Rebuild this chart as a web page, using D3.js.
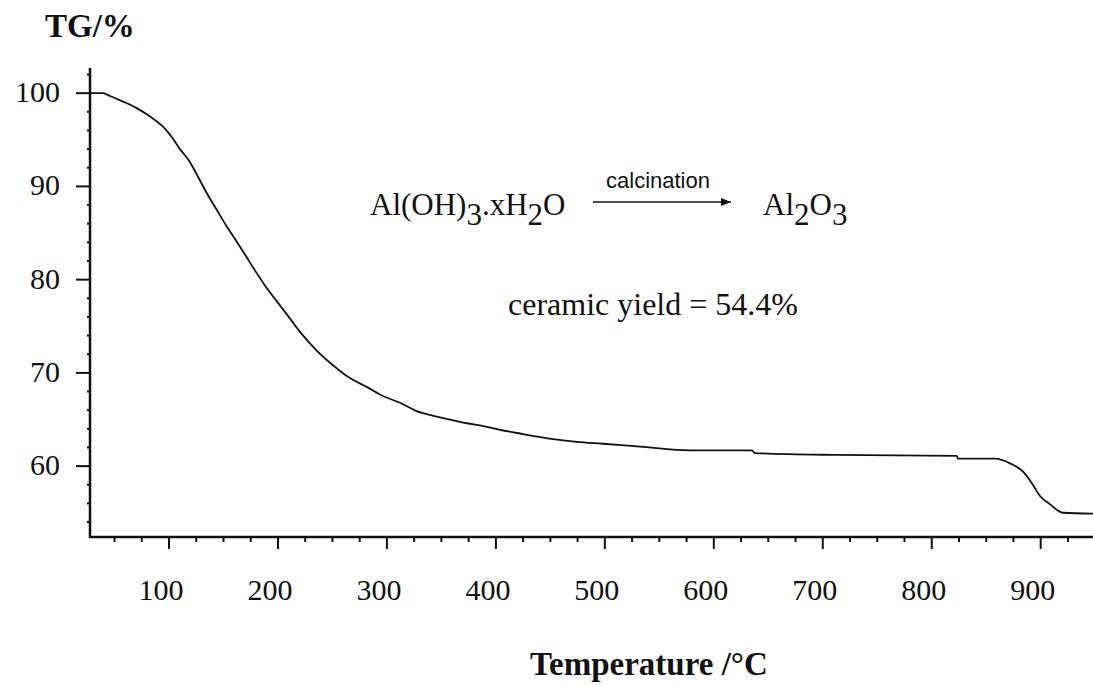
<!DOCTYPE html>
<html><head><meta charset="utf-8">
<script src="https://cdn.jsdelivr.net/npm/d3@7"></script>
<style>
html,body{margin:0;padding:0;background:#fff;}
svg{display:block;}
text{font-family:"Liberation Serif","Times New Roman",serif;fill:#111;}
</style></head>
<body>
<svg id="c" width="1093" height="685"></svg>
<script>
const temperature = [27.5,39.4,45.9,57.8,70.4,82.6,94.5,102.5,110.1,119.3,125.4,134.6,143.8,153.0,162.1,171.3,180.5,189.7,198.8,208.0,220.2,235.6,250.8,265.3,281.4,296.7,312.0,327.3,342.6,357.9,373.2,388.5,403.8,422.1,452.7,474.2,498.6,532.3,578.2,634.8,637.8,712.8,822.9,824.1,858.1,871.9,883.8,891.7,899.4,908.6,920.5,948];
const tgPercent   = [100.0,100.0,99.7,99.1,98.4,97.5,96.4,95.3,94.0,92.6,91.3,89.3,87.5,85.7,84.1,82.4,80.7,79.1,77.7,76.3,74.4,72.4,70.8,69.5,68.5,67.5,66.8,65.9,65.4,65.0,64.6,64.3,63.9,63.5,62.9,62.6,62.4,62.1,61.7,61.7,61.4,61.2,61.1,60.8,60.8,60.3,59.4,58.2,56.8,55.9,55.0,54.9];
const xTicks = [100,200,300,400,500,600,700,800,900];
const yTicks = [60,70,80,90,100];
const xMinor = d3.range(50,950,25).filter(v=>v%100!==0);
const yMinor = d3.range(54,103,2).filter(v=>v%10!==0);
const xLabel = "Temperature /°C";
const yLabel = "TG/%";
const reactant = ["Al(OH)","3",".xH","2","O"];
const product = ["Al","2","O","3"];
const arrowLabel = "calcination";
const yieldText = "ceramic yield = 54.4%";

const svg = d3.select("#c");
const x = d3.scaleLinear().domain([27.5,948]).range([90,1093]);
const y = d3.scaleLinear().domain([52.4,102.7]).range([537,68]);

// curve
const data = temperature.map((t,i)=>({t, v:tgPercent[i]}));
svg.append("path").datum(data)
  .attr("d", d3.line().x(d=>x(d.t)).y(d=>y(d.v)).curve(d3.curveMonotoneX))
  .attr("fill","none").attr("stroke","#111").attr("stroke-width",1.8);

// x axis
const gx = svg.append("g").attr("transform","translate(0,537)");
gx.append("line").attr("x1",89).attr("x2",1093).attr("stroke","#111").attr("stroke-width",2.5);
gx.selectAll(".mj").data(xTicks).join("line")
  .attr("x1",d=>x(d)).attr("x2",d=>x(d)).attr("y1",0).attr("y2",12)
  .attr("stroke","#111").attr("stroke-width",2);
gx.selectAll(".mn").data(xMinor).join("line").attr("class","mn")
  .attr("x1",d=>x(d)).attr("x2",d=>x(d)).attr("y1",0).attr("y2",5)
  .attr("stroke","#111").attr("stroke-width",2);
gx.selectAll(".tl").data(xTicks).join("text").attr("class","tl")
  .attr("x",d=>x(d)-8).attr("y",63).attr("text-anchor","middle")
  .attr("font-size",30).text(d=>d);

// y axis
const gy = svg.append("g").attr("transform","translate(90,0)");
gy.append("line").attr("y1",68).attr("y2",538).attr("stroke","#111").attr("stroke-width",2.5);
gy.selectAll(".mj").data(yTicks).join("line")
  .attr("y1",d=>y(d)).attr("y2",d=>y(d)).attr("x1",-14).attr("x2",0)
  .attr("stroke","#111").attr("stroke-width",2);
gy.selectAll(".mn").data(yMinor).join("line").attr("class","mn")
  .attr("y1",d=>y(d)).attr("y2",d=>y(d)).attr("x1",-3).attr("x2",0)
  .attr("stroke","#111").attr("stroke-width",2);
gy.selectAll(".tl").data(yTicks).join("text").attr("class","tl")
  .attr("x",-30).attr("y",d=>y(d)).attr("dy","0.3em").attr("text-anchor","end")
  .attr("font-size",30).text(d=>d);

// axis titles
svg.append("text").attr("x",45).attr("y",37).attr("font-size",33).attr("font-weight","bold").text(yLabel);
svg.append("text").attr("x",649).attr("y",675).attr("text-anchor","middle").attr("font-size",33).attr("font-weight","bold").text(xLabel);

// reaction
const r = svg.append("text").attr("x",370).attr("y",215).attr("font-size",31);
reactant.forEach((s,i)=>{
  r.append("tspan").attr("dy", i===0?0:(i%2===1?10:-10)).text(s);
});
const p = svg.append("text").attr("x",763).attr("y",215).attr("font-size",31);
product.forEach((s,i)=>{
  p.append("tspan").attr("dy", i===0?0:(i%2===1?10:-10)).text(s);
});
svg.append("defs").append("marker").attr("id","ah").attr("viewBox","0 0 10 10")
  .attr("refX",10).attr("refY",5).attr("markerWidth",10).attr("markerHeight",10)
  .attr("markerUnits","userSpaceOnUse").attr("orient","auto")
  .append("path").attr("d","M0,1 L10,5 L0,9 Z").attr("fill","#111");
svg.append("line").attr("x1",593).attr("x2",731).attr("y1",202).attr("y2",202)
  .attr("stroke","#111").attr("stroke-width",1.5).attr("marker-end","url(#ah)");
svg.append("text").attr("x",658).attr("y",188).attr("text-anchor","middle")
  .attr("font-size",22).style("font-family","'Liberation Sans Narrow','Liberation Sans',Arial,sans-serif")
  .text(arrowLabel);
svg.append("text").attr("x",508).attr("y",315).attr("font-size",32).text(yieldText);
</script>
</body></html>
